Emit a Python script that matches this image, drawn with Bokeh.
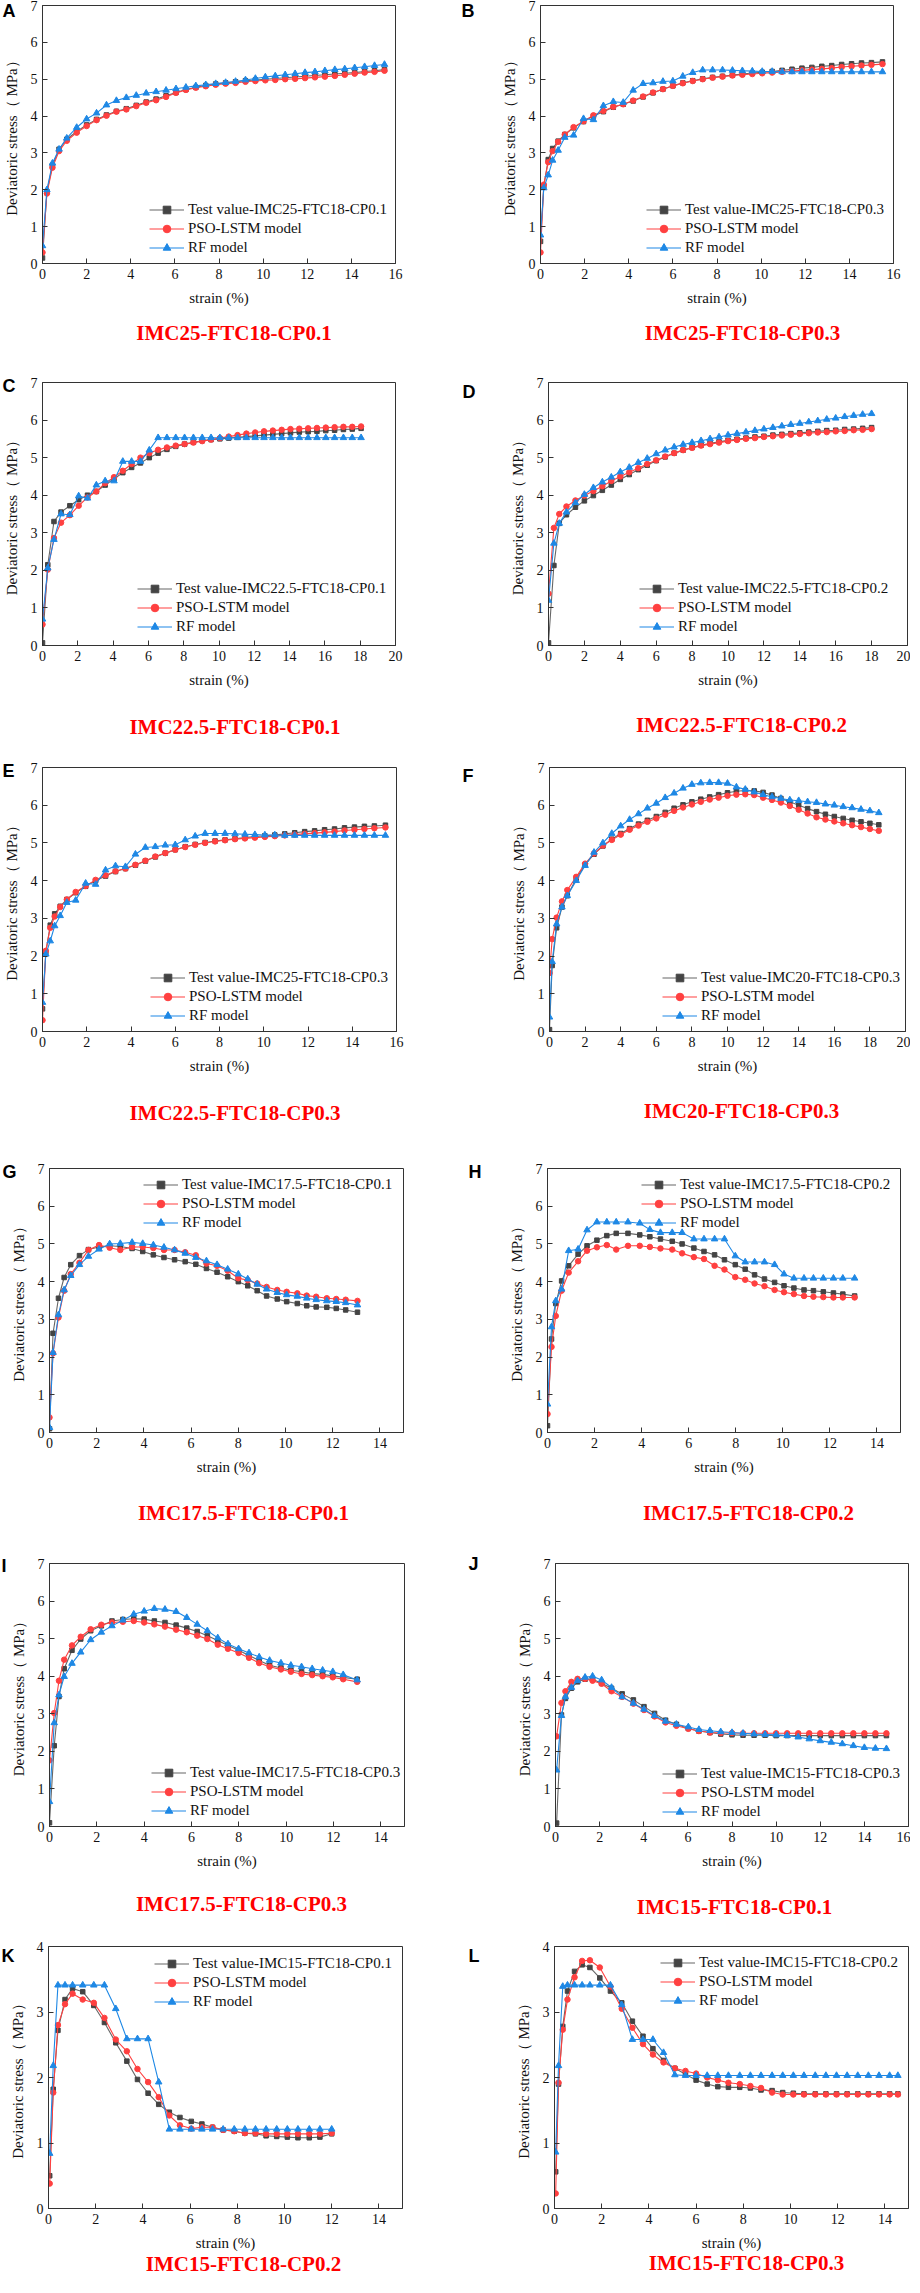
from bokeh.plotting import figure
from bokeh.models import Range1d, FixedTicker, Legend, LegendItem, Label
from bokeh.layouts import row, column
from bokeh.embed import file_html
from bokeh.resources import INLINE

SERIF = "Liberation Serif"
SANS = "Liberation Sans"
C_TEST_LINE = "#666666"
C_TEST = "#444444"
C_PSO = "#ff4040"
C_RF = "#1e88e5"
YLABEL = "Deviatoric stress（ MPa）"
XLABEL = "strain (%)"

# ---------------- data ----------------
A_x = [0, 0.2, 0.45, 0.75, 1.1, 1.55, 2.0, 2.45, 2.9, 3.35, 3.8, 4.25, 4.7, 5.15, 5.6, 6.05, 6.5, 6.95, 7.4, 7.85,
       8.3, 8.75, 9.2, 9.65, 10.1, 10.55, 11.0, 11.45, 11.9, 12.35, 12.8, 13.25, 13.7, 14.15, 14.6, 15.05, 15.5]
A_test = [0.15, 1.95, 2.66, 3.1, 3.37, 3.58, 3.76, 3.91, 4.03, 4.13, 4.2, 4.29, 4.38, 4.46, 4.55, 4.64, 4.72, 4.78, 4.83, 4.87,
          4.9, 4.93, 4.96, 4.98, 5.0, 5.02, 5.04, 5.06, 5.08, 5.1, 5.12, 5.14, 5.16, 5.18, 5.21, 5.23, 5.26]
A_pso = [0.3, 1.9, 2.6, 3.05, 3.33, 3.55, 3.73, 3.89, 4.01, 4.12, 4.18, 4.27, 4.36, 4.43, 4.52, 4.63, 4.71, 4.77, 4.81, 4.85,
         4.88, 4.9, 4.93, 4.95, 4.97, 4.98, 5.0, 5.01, 5.03, 5.05, 5.07, 5.09, 5.12, 5.15, 5.18, 5.2, 5.23]
A_rf = [0.48, 2.0, 2.72, 3.1, 3.4, 3.69, 3.92, 4.08, 4.3, 4.42, 4.5, 4.56, 4.62, 4.66, 4.7, 4.74, 4.78, 4.82, 4.85, 4.88,
        4.91, 4.94, 4.98, 5.02, 5.06, 5.09, 5.12, 5.15, 5.18, 5.2, 5.23, 5.26, 5.28, 5.31, 5.34, 5.37, 5.4]

B_x = [0, 0.15, 0.35, 0.55, 0.8, 1.1, 1.5, 1.95, 2.4, 2.85, 3.3, 3.75, 4.2, 4.65, 5.1, 5.55, 6.0, 6.45, 6.9, 7.35,
       7.8, 8.25, 8.7, 9.15, 9.6, 10.05, 10.5, 10.95, 11.4, 11.85, 12.3, 12.75, 13.2, 13.65, 14.1, 14.55, 15.0, 15.5]
B_test = [0.6, 2.1, 2.82, 3.12, 3.32, 3.5, 3.68, 3.85, 4.0, 4.12, 4.24, 4.32, 4.41, 4.52, 4.63, 4.73, 4.82, 4.9, 4.96, 5.01,
          5.05, 5.08, 5.11, 5.14, 5.17, 5.19, 5.21, 5.24, 5.27, 5.3, 5.32, 5.35, 5.37, 5.4, 5.42, 5.44, 5.45, 5.47]
B_pso = [0.3, 2.14, 2.75, 3.05, 3.3, 3.5, 3.7, 3.86, 4.02, 4.14, 4.25, 4.32, 4.42, 4.53, 4.64, 4.73, 4.82, 4.89, 4.95, 5.0,
         5.04, 5.07, 5.1, 5.12, 5.14, 5.16, 5.18, 5.2, 5.22, 5.24, 5.26, 5.28, 5.3, 5.33, 5.35, 5.37, 5.39, 5.41]
B_rf = [0.77, 2.05, 2.4, 2.8, 3.07, 3.42, 3.48, 3.93, 3.9, 4.28, 4.39, 4.37, 4.7, 4.88, 4.9, 4.94, 4.95, 5.08, 5.18, 5.25,
        5.25, 5.25, 5.24, 5.23, 5.22, 5.21, 5.21, 5.2, 5.2, 5.2, 5.2, 5.2, 5.2, 5.2, 5.2, 5.2, 5.2, 5.2]

C_x = [0, 0.3, 0.65, 1.05, 1.55, 2.05, 2.55, 3.05, 3.55, 4.05, 4.55, 5.05, 5.55, 6.05, 6.55, 7.05, 7.55, 8.05, 8.55, 9.05,
       9.55, 10.05, 10.55, 11.05, 11.55, 12.05, 12.55, 13.05, 13.55, 14.05, 14.55, 15.05, 15.55, 16.05, 16.55, 17.05, 17.55, 18.05]
C_test = [0.07, 2.15, 3.3, 3.55, 3.72, 3.88, 4.0, 4.1, 4.27, 4.43, 4.6, 4.74, 4.86, 5.0, 5.12, 5.22, 5.3, 5.36, 5.41, 5.45,
          5.48, 5.5, 5.52, 5.54, 5.56, 5.58, 5.6, 5.62, 5.64, 5.66, 5.68, 5.69, 5.7, 5.72, 5.73, 5.75, 5.76, 5.78]
C_pso = [0.56, 2.02, 2.86, 3.27, 3.47, 3.72, 3.94, 4.1, 4.32, 4.48, 4.65, 4.83, 5.0, 5.12, 5.21, 5.27, 5.32, 5.36, 5.4, 5.44,
         5.48, 5.52, 5.56, 5.6, 5.64, 5.67, 5.7, 5.72, 5.74, 5.76, 5.77, 5.78, 5.79, 5.8, 5.81, 5.82, 5.82, 5.83]
C_rf = [0.7, 2.06, 2.82, 3.5, 3.48, 3.98, 3.92, 4.27, 4.38, 4.38, 4.9, 4.9, 4.9, 5.2, 5.53, 5.53, 5.53, 5.53, 5.53, 5.53,
        5.53, 5.53, 5.53, 5.53, 5.53, 5.53, 5.53, 5.53, 5.53, 5.53, 5.53, 5.53, 5.53, 5.53, 5.53, 5.53, 5.53, 5.53]

D_x = [0, 0.3, 0.6, 1.0, 1.5, 2.0, 2.5, 3.0, 3.5, 4.0, 4.5, 5.0, 5.5, 6.0, 6.5, 7.0, 7.5, 8.0, 8.5, 9.0,
       9.5, 10.0, 10.5, 11.0, 11.5, 12.0, 12.5, 13.0, 13.5, 14.0, 14.5, 15.0, 15.5, 16.0, 16.5, 17.0, 17.5, 18.0]
D_test = [0.07, 2.13, 3.25, 3.48, 3.68, 3.85, 3.99, 4.13, 4.27, 4.42, 4.55, 4.68, 4.8, 4.92, 5.02, 5.12, 5.2, 5.27, 5.33, 5.38,
          5.42, 5.46, 5.49, 5.52, 5.55, 5.57, 5.6, 5.62, 5.64, 5.66, 5.68, 5.7, 5.72, 5.73, 5.75, 5.76, 5.78, 5.8]
D_pso = [1.38, 3.13, 3.5, 3.7, 3.86, 3.99, 4.11, 4.24, 4.38, 4.5, 4.61, 4.72, 4.83, 4.93, 5.03, 5.12, 5.2, 5.26, 5.32, 5.36,
         5.4, 5.44, 5.47, 5.5, 5.52, 5.55, 5.57, 5.59, 5.61, 5.63, 5.65, 5.67, 5.68, 5.7, 5.71, 5.73, 5.74, 5.76]
D_rf = [1.2, 2.72, 3.25, 3.55, 3.8, 4.02, 4.2, 4.35, 4.48, 4.62, 4.74, 4.87, 4.98, 5.1, 5.2, 5.28, 5.35, 5.4, 5.45, 5.5,
        5.55, 5.6, 5.64, 5.68, 5.72, 5.76, 5.8, 5.84, 5.88, 5.91, 5.95, 5.98, 6.02, 6.05, 6.09, 6.12, 6.15, 6.17]

# panel E shows the same test series as panel B (IMC25-FTC18-CP0.3)
E_x = B_x
E_test = B_test
E_pso = B_pso
E_rf = B_rf

F_x = [0, 0.15, 0.4, 0.7, 1.0, 1.5, 2.0, 2.5, 3.0, 3.5, 4.0, 4.5, 5.0, 5.5, 6.0, 6.5, 7.0, 7.5, 8.0, 8.5,
       9.0, 9.5, 10.0, 10.5, 11.0, 11.5, 12.0, 12.5, 13.0, 13.5, 14.0, 14.5, 15.0, 15.5, 16.0, 16.5, 17.0, 17.5, 18.0, 18.5]
F_test = [0.05, 1.75, 2.75, 3.3, 3.6, 4.05, 4.42, 4.7, 4.92, 5.1, 5.25, 5.38, 5.5, 5.6, 5.7, 5.81, 5.92, 6.01, 6.09, 6.16,
          6.22, 6.28, 6.33, 6.37, 6.39, 6.38, 6.34, 6.27, 6.18, 6.09, 6.0, 5.91, 5.83, 5.76, 5.7, 5.65, 5.6, 5.56, 5.52, 5.48]
F_pso = [1.55, 2.45, 3.02, 3.45, 3.75, 4.1, 4.45, 4.72, 4.93, 5.08, 5.22, 5.35, 5.46, 5.56, 5.65, 5.75, 5.85, 5.94, 6.02, 6.09,
         6.15, 6.2, 6.25, 6.28, 6.29, 6.27, 6.2, 6.14, 6.07, 5.98, 5.88, 5.78, 5.68, 5.62, 5.57, 5.52, 5.47, 5.42, 5.37, 5.32]
F_rf = [0.38, 1.85, 2.85, 3.3, 3.6, 4.0, 4.4, 4.75, 5.0, 5.25, 5.45, 5.62, 5.77, 5.92, 6.05, 6.2, 6.32, 6.45, 6.55, 6.59,
        6.6, 6.6, 6.58, 6.48, 6.42, 6.35, 6.28, 6.22, 6.18, 6.14, 6.12, 6.09, 6.07, 6.03, 6.0, 5.96, 5.93, 5.89, 5.85, 5.8]

G_x = [0, 0.15, 0.38, 0.62, 0.9, 1.27, 1.65, 2.1, 2.55, 3.0, 3.5, 3.95, 4.4, 4.85, 5.3, 5.75, 6.2, 6.65, 7.1, 7.55,
       8.0, 8.4, 8.8, 9.2, 9.65, 10.05, 10.5, 10.9, 11.3, 11.75, 12.15, 12.55, 13.05]
G_test = [0.1, 2.63, 3.56, 4.11, 4.45, 4.69, 4.85, 4.92, 4.95, 4.93, 4.88, 4.8, 4.71, 4.64, 4.58, 4.53, 4.46, 4.35, 4.25, 4.13,
          4.0, 3.89, 3.76, 3.62, 3.54, 3.47, 3.42, 3.36, 3.33, 3.32, 3.29, 3.25, 3.19]
G_pso = [0.4, 2.1, 3.05, 3.76, 4.2, 4.5, 4.84, 4.97, 4.9, 4.84, 4.92, 4.92, 4.89, 4.84, 4.84, 4.78, 4.7, 4.48, 4.42, 4.29,
         4.09, 4.04, 3.95, 3.86, 3.78, 3.73, 3.69, 3.63, 3.6, 3.56, 3.54, 3.52, 3.49]
G_rf = [0.13, 2.12, 3.12, 3.78, 4.16, 4.45, 4.67, 4.86, 5.0, 5.01, 5.04, 5.01, 4.97, 4.91, 4.84, 4.75, 4.64, 4.55, 4.45, 4.33,
        4.2, 4.07, 3.93, 3.8, 3.71, 3.65, 3.61, 3.56, 3.52, 3.49, 3.47, 3.44, 3.38]

H_x = [0, 0.17, 0.35, 0.6, 0.9, 1.3, 1.68, 2.1, 2.52, 2.92, 3.42, 3.92, 4.35, 4.8, 5.3, 5.72, 6.22, 6.65, 7.1, 7.52,
       7.98, 8.4, 8.8, 9.22, 9.65, 10.05, 10.47, 10.9, 11.3, 11.72, 12.15, 12.55, 13.05]
H_test = [0.18, 2.48, 3.42, 4.02, 4.42, 4.73, 4.95, 5.1, 5.22, 5.28, 5.28, 5.24, 5.19, 5.13, 5.07, 5.0, 4.89, 4.8, 4.71, 4.58,
          4.45, 4.33, 4.18, 4.07, 3.98, 3.89, 3.83, 3.78, 3.76, 3.73, 3.7, 3.67, 3.62]
H_pso = [0.49, 2.27, 3.09, 3.76, 4.24, 4.54, 4.82, 4.91, 4.97, 4.85, 4.95, 4.95, 4.92, 4.88, 4.85, 4.75, 4.65, 4.6, 4.42, 4.32,
         4.12, 4.05, 3.95, 3.88, 3.78, 3.72, 3.67, 3.62, 3.6, 3.59, 3.58, 3.58, 3.58]
H_rf = [0.75, 2.8, 3.49, 3.8, 4.82, 4.86, 5.37, 5.58, 5.58, 5.58, 5.58, 5.55, 5.38, 5.3, 5.3, 5.3, 5.13, 5.13, 5.13, 5.13,
        4.68, 4.52, 4.52, 4.52, 4.45, 4.2, 4.09, 4.09, 4.09, 4.09, 4.09, 4.09, 4.09]

I_x = [0, 0.2, 0.4, 0.62, 0.95, 1.32, 1.74, 2.19, 2.64, 3.1, 3.56, 4.0, 4.43, 4.88, 5.35, 5.8, 6.24, 6.67, 7.11, 7.54,
       7.99, 8.43, 8.86, 9.3, 9.78, 10.2, 10.65, 11.1, 11.54, 11.97, 12.41, 13.0]
I_test = [0.1, 2.15, 3.46, 4.2, 4.69, 4.99, 5.21, 5.34, 5.47, 5.51, 5.53, 5.52, 5.47, 5.43, 5.36, 5.28, 5.19, 5.08, 4.95, 4.82,
          4.69, 4.55, 4.42, 4.29, 4.22, 4.16, 4.12, 4.07, 4.05, 4.01, 3.97, 3.92]
I_pso = [1.76, 3.02, 3.88, 4.44, 4.82, 5.05, 5.25, 5.37, 5.43, 5.45, 5.47, 5.43, 5.38, 5.32, 5.24, 5.17, 5.08, 4.99, 4.84, 4.73,
         4.62, 4.49, 4.35, 4.25, 4.18, 4.12, 4.06, 4.03, 4.0, 3.97, 3.92, 3.85]
I_rf = [0.66, 2.76, 3.5, 3.99, 4.34, 4.64, 4.97, 5.17, 5.34, 5.49, 5.65, 5.73, 5.8, 5.78, 5.72, 5.56, 5.38, 5.21, 5.02, 4.86,
        4.73, 4.62, 4.51, 4.42, 4.35, 4.29, 4.25, 4.2, 4.16, 4.12, 4.04, 3.9]

J_x = [0.05, 0.27, 0.45, 0.72, 1.0, 1.34, 1.68, 2.09, 2.54, 3.02, 3.53, 4.01, 4.49, 4.99, 5.48, 6.02, 6.5, 7.0, 7.49, 8.0,
       8.5, 9.0, 9.5, 10.0, 10.5, 11.0, 11.5, 12.0, 12.5, 13.0, 13.5, 14.0, 14.5, 15.0]
J_test = [0.09, 2.97, 3.41, 3.68, 3.85, 3.92, 3.92, 3.81, 3.68, 3.53, 3.37, 3.19, 3.01, 2.83, 2.72, 2.61, 2.54, 2.5, 2.46, 2.44,
          2.43, 2.43, 2.43, 2.42, 2.42, 2.42, 2.42, 2.42, 2.42, 2.42, 2.42, 2.42, 2.42, 2.42]
J_pso = [2.4, 3.29, 3.6, 3.85, 3.93, 3.93, 3.88, 3.8, 3.6, 3.45, 3.27, 3.1, 2.93, 2.77, 2.68, 2.6, 2.54, 2.5, 2.49, 2.49,
         2.48, 2.48, 2.48, 2.48, 2.48, 2.48, 2.48, 2.48, 2.48, 2.48, 2.48, 2.48, 2.48, 2.48]
J_rf = [1.5, 2.95, 3.45, 3.7, 3.88, 3.97, 4.0, 3.9, 3.7, 3.45, 3.28, 3.12, 2.95, 2.8, 2.72, 2.65, 2.58, 2.55, 2.52, 2.5,
        2.48, 2.46, 2.45, 2.44, 2.42, 2.38, 2.33, 2.28, 2.24, 2.2, 2.15, 2.1, 2.08, 2.07]

K_x = [0.05, 0.2, 0.4, 0.7, 1.02, 1.45, 1.92, 2.37, 2.85, 3.32, 3.77, 4.22, 4.67, 5.12, 5.57, 6.05, 6.5, 6.95, 7.4, 7.87,
       8.32, 8.77, 9.22, 9.67, 10.12, 10.57, 11.05, 11.5, 12.0]
K_test = [0.5, 1.82, 2.72, 3.19, 3.36, 3.31, 3.1, 2.84, 2.53, 2.25, 1.97, 1.76, 1.59, 1.47, 1.39, 1.33, 1.29, 1.24, 1.2, 1.18,
          1.15, 1.14, 1.11, 1.1, 1.09, 1.08, 1.08, 1.09, 1.14]
K_pso = [0.38, 1.77, 2.8, 3.12, 3.28, 3.19, 3.14, 2.91, 2.58, 2.4, 2.13, 1.93, 1.7, 1.42, 1.27, 1.22, 1.24, 1.24, 1.2, 1.18,
         1.15, 1.15, 1.14, 1.14, 1.14, 1.14, 1.14, 1.14, 1.15]
K_rf = [0.84, 2.18, 3.41, 3.41, 3.41, 3.41, 3.41, 3.41, 3.05, 2.59, 2.59, 2.59, 1.93, 1.21, 1.21, 1.21, 1.21, 1.21, 1.21, 1.21,
        1.21, 1.21, 1.21, 1.21, 1.21, 1.21, 1.21, 1.21, 1.21]

L_x = [0.05, 0.17, 0.35, 0.55, 0.85, 1.17, 1.5, 1.92, 2.37, 2.85, 3.3, 3.75, 4.17, 4.62, 5.1, 5.55, 6.0, 6.47, 6.92, 7.37,
       7.85, 8.3, 8.75, 9.22, 9.67, 10.12, 10.57, 11.05, 11.5, 11.95, 12.4, 12.85, 13.3, 13.75, 14.2, 14.55]
L_test = [0.56, 1.9, 2.78, 3.32, 3.62, 3.72, 3.68, 3.52, 3.32, 3.14, 2.86, 2.63, 2.44, 2.26, 2.14, 2.05, 1.96, 1.9, 1.86, 1.85,
          1.85, 1.84, 1.81, 1.8, 1.77, 1.76, 1.75, 1.75, 1.75, 1.75, 1.75, 1.75, 1.75, 1.75, 1.75, 1.75]
L_pso = [0.23, 1.92, 2.73, 3.19, 3.53, 3.78, 3.79, 3.68, 3.39, 3.05, 2.76, 2.51, 2.35, 2.23, 2.14, 2.1, 2.06, 2.0, 1.96, 1.92,
         1.9, 1.87, 1.84, 1.77, 1.74, 1.74, 1.74, 1.74, 1.74, 1.74, 1.74, 1.74, 1.74, 1.74, 1.74, 1.74]
L_rf = [0.86, 2.18, 3.39, 3.41, 3.41, 3.41, 3.41, 3.41, 3.41, 3.11, 2.58, 2.58, 2.58, 2.38, 2.04, 2.03, 2.03, 2.03, 2.03, 2.03,
        2.03, 2.03, 2.03, 2.03, 2.03, 2.03, 2.03, 2.03, 2.03, 2.03, 2.03, 2.03, 2.03, 2.03, 2.03, 2.03]

PANELS = [
    dict(letter="A", title="IMC25-FTC18-CP0.1", test_name="Test value-IMC25-FTC18-CP0.1",
         x=A_x, test=A_test, pso=A_pso, rf=A_rf, xmax=16, ymax=7),
    dict(letter="B", title="IMC25-FTC18-CP0.3", test_name="Test value-IMC25-FTC18-CP0.3",
         x=B_x, test=B_test, pso=B_pso, rf=B_rf, xmax=16, ymax=7),
    dict(letter="C", title="IMC22.5-FTC18-CP0.1", test_name="Test value-IMC22.5-FTC18-CP0.1",
         x=C_x, test=C_test, pso=C_pso, rf=C_rf, xmax=20, ymax=7),
    dict(letter="D", title="IMC22.5-FTC18-CP0.2", test_name="Test value-IMC22.5-FTC18-CP0.2",
         x=D_x, test=D_test, pso=D_pso, rf=D_rf, xmax=20, ymax=7),
    dict(letter="E", title="IMC22.5-FTC18-CP0.3", test_name="Test value-IMC25-FTC18-CP0.3",
         x=E_x, test=E_test, pso=E_pso, rf=E_rf, xmax=16, ymax=7),
    dict(letter="F", title="IMC20-FTC18-CP0.3", test_name="Test value-IMC20-FTC18-CP0.3",
         x=F_x, test=F_test, pso=F_pso, rf=F_rf, xmax=20, ymax=7),
    dict(letter="G", title="IMC17.5-FTC18-CP0.1", test_name="Test value-IMC17.5-FTC18-CP0.1",
         x=G_x, test=G_test, pso=G_pso, rf=G_rf, xmax=15, ymax=7),
    dict(letter="H", title="IMC17.5-FTC18-CP0.2", test_name="Test value-IMC17.5-FTC18-CP0.2",
         x=H_x, test=H_test, pso=H_pso, rf=H_rf, xmax=15, ymax=7),
    dict(letter="I", title="IMC17.5-FTC18-CP0.3", test_name="Test value-IMC17.5-FTC18-CP0.3",
         x=I_x, test=I_test, pso=I_pso, rf=I_rf, xmax=15, ymax=7),
    dict(letter="J", title="IMC15-FTC18-CP0.1", test_name="Test value-IMC15-FTC18-CP0.3",
         x=J_x, test=J_test, pso=J_pso, rf=J_rf, xmax=16, ymax=7),
    dict(letter="K", title="IMC15-FTC18-CP0.2", test_name="Test value-IMC15-FTC18-CP0.1",
         x=K_x, test=K_test, pso=K_pso, rf=K_rf, xmax=15, ymax=4),
    dict(letter="L", title="IMC15-FTC18-CP0.3", test_name="Test value-IMC15-FTC18-CP0.2",
         x=L_x, test=L_test, pso=L_pso, rf=L_rf, xmax=15, ymax=4),
]

# ---------------- layout (page pixel positions) ----------------
ROW_TOP = [8, 377, 760, 1150, 1545, 1935]
ROW_H = [369, 383, 390, 395, 390, 350]
COL_LEFT = [8, 468]
COL_W = [460, 450]
# frame (l, t, r, b), letter (x, top), title (cx, cy), legend (glyph left x, first row center y)
GEOM = [
    ((49, 13, 403, 271), (9, 8), (241, 340), (156, 217)),
    ((548, 13, 901, 271), (469, 8), (750, 340), (654, 217)),
    ((49, 390, 403, 653), (9, 383), (242, 734), (144, 596)),
    ((556, 384, 915, 653), (470, 383), (749, 734), (647, 596)),
    ((49, 775, 404, 1039), (9, 768), (242, 1120), (157, 985)),
    ((557, 770, 913, 1039), (470, 768), (749, 1120), (670, 985)),
    ((57, 1176, 411, 1440), (10, 1169), (251, 1520), (151, 1192)),
    ((555, 1176, 908, 1440), (476, 1169), (756, 1520), (649, 1192)),
    ((57, 1568, 412, 1835), (9, 1560), (249, 1914), (159, 1781)),
    ((563, 1571, 916, 1834), (476, 1561), (742, 1914), (670, 1781)),
    ((56, 1954, 410, 2217), (9, 1953), (251, 2273), (162, 1972)),
    ((562, 1954, 916, 2218), (476, 1953), (754, 2273), (668, 1972)),
]
ROW_PITCH = 19


def make_panel(i, cfg):
    r, c = divmod(i, 2)
    (fl, ft, fr, fb), (lx, ltop), (tcx, tcy), (gx, gy) = GEOM[i]
    W, H = COL_W[c], ROW_H[r]
    cl, ct = COL_LEFT[c], ROW_TOP[r]
    left, top = fl - cl, ft - ct
    fw, fh = fr - fl, fb - ft
    xmax, ymax = cfg["xmax"], cfg["ymax"]
    p = figure(width=W, height=H, min_border_left=left, min_border_top=top,
               min_border_right=W - left - fw, min_border_bottom=H - top - fh,
               x_range=Range1d(0, xmax), y_range=Range1d(0, ymax),
               output_backend="svg", toolbar_location=None, tools="", title=None,
               background_fill_color="white", border_fill_color="white")
    p.grid.visible = False
    p.outline_line_color = "#333333"
    p.outline_line_width = 1
    for ax in (p.xaxis[0], p.yaxis[0]):
        ax.axis_line_color = "#333333"
        ax.major_tick_in = 5
        ax.major_tick_out = 0
        ax.minor_tick_in = 0
        ax.minor_tick_out = 0
        ax.major_tick_line_color = "#333333"
        ax.major_label_text_font = SERIF
        ax.major_label_text_font_size = "14px"
        ax.major_label_text_color = "#111111"
        ax.axis_label_text_font = SERIF
        ax.axis_label_text_font_size = "15px"
        ax.axis_label_text_font_style = "normal"
        ax.axis_label_text_color = "#111111"
        ax.major_label_standoff = 5
        ax.axis_label_standoff = 8
    p.xaxis.ticker = FixedTicker(ticks=list(range(0, xmax + 1, 2)))
    p.yaxis.ticker = FixedTicker(ticks=list(range(0, ymax + 1)))
    p.xaxis.axis_label = XLABEL
    p.yaxis.axis_label = YLABEL

    x = cfg["x"]
    t_l = p.line(x, cfg["test"], line_color=C_TEST_LINE, line_width=1.1)
    t_s = p.scatter(x, cfg["test"], marker="square", size=4.5, fill_color=C_TEST, line_color=C_TEST)
    p_l = p.line(x, cfg["pso"], line_color=C_PSO, line_width=1.1)
    p_s = p.scatter(x, cfg["pso"], marker="circle", size=5.5, fill_color=C_PSO, line_color=C_PSO)
    r_l = p.line(x, cfg["rf"], line_color=C_RF, line_width=1.1)
    r_s = p.scatter(x, cfg["rf"], marker="triangle", size=6.5, fill_color=C_RF, line_color=C_RF)

    leg_bottom = gy - ROW_PITCH / 2 + 3 * ROW_PITCH
    legend = Legend(items=[LegendItem(label=cfg["test_name"], renderers=[t_l, t_s]),
                           LegendItem(label="PSO-LSTM model", renderers=[p_l, p_s]),
                           LegendItem(label="RF model", renderers=[r_l, r_s])],
                    location=(gx - fl, fb - leg_bottom),
                    padding=0, margin=0, spacing=0, glyph_width=35, glyph_height=ROW_PITCH,
                    label_height=ROW_PITCH, label_standoff=4,
                    label_text_font=SERIF, label_text_font_size="15px", label_text_color="#111111",
                    border_line_alpha=0, background_fill_alpha=0)
    p.add_layout(legend)

    # labels living in side panels are not clipped to the frame; they are
    # positioned through the plot's own data scales
    def dx(px):
        return (px - fl) / fw * xmax

    def dy(py):
        return (fb - py) / fh * ymax

    p.add_layout(Label(x=dx(tcx), y=dy(tcy), x_units="data", y_units="data",
                       text=cfg["title"], text_font=SERIF, text_font_style="bold",
                       text_font_size="21px", text_color="#ff0000",
                       text_align="center", text_baseline="middle"), "below")

    side = "right" if c == 0 else "left"
    p.add_layout(Label(x=dx(lx), y=dy(ltop), x_units="data", y_units="data",
                       text=cfg["letter"], text_font=SANS, text_font_style="bold",
                       text_font_size="18px", text_color="#000000",
                       text_align="left", text_baseline="top"), side)
    return p


figs = [make_panel(i, cfg) for i, cfg in enumerate(PANELS)]
layout = column(*[row(figs[2 * k], figs[2 * k + 1]) for k in range(6)])

with open("out.html", "w") as f:
    f.write(file_html(layout, INLINE))
